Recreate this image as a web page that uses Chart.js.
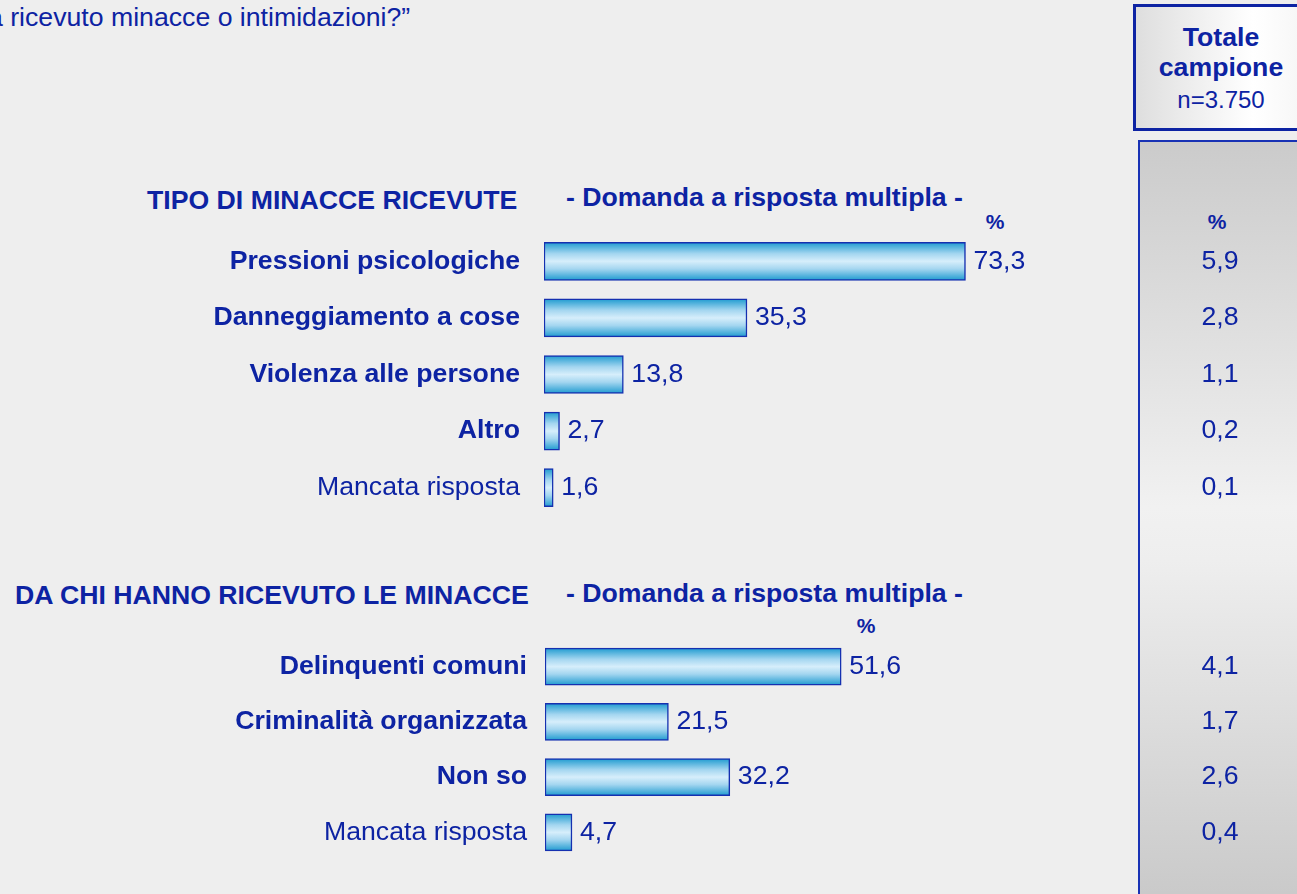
<!DOCTYPE html>
<html>
<head>
<meta charset="utf-8">
<script src="https://cdn.jsdelivr.net/npm/chart.js@4.4.1/dist/chart.umd.min.js"></script>
<style>
  body { margin: 0; background: #eeeeee; width: 1297px; height: 894px; overflow: hidden; position: relative;
         font-family: 'Liberation Sans', Arial, sans-serif; color: #0d23a3; }
  .t { position: absolute; white-space: nowrap; line-height: 1; font-size: 26.67px; }
  .b { font-weight: bold; }
  .pct { position: absolute; width: 100px; text-align: center; font-weight: bold; font-size: 21px; line-height: 1; }
  #box { position: absolute; left: 1133px; top: 4px; width: 180px; height: 121px; border: 3px solid #0d23a3;
         background: linear-gradient(to right, #dedede 0%, #ffffff 65%, #f4f4f4 100%); }
  #col { position: absolute; left: 1138px; top: 140px; width: 170px; height: 760px;
         border-left: 2px solid #1832b5; border-top: 2px solid #1832b5;
         background: linear-gradient(to bottom, #cbcbcb 0%, #f1f1f1 48%, #eeeeee 55%, #c9c9c9 100%); }
  canvas { position: absolute; left: 0; }
</style>
</head>
<body>
<div class="t" style="left:-12px; top:4px;">a ricevuto minacce o intimidazioni?”</div>

<div id="box"></div>
<div class="t b" style="left:1121px; width:200px; text-align:center; top:24px;">Totale</div>
<div class="t b" style="left:1121px; width:200px; text-align:center; top:54px;">campione</div>
<div class="t" style="left:1121px; width:200px; text-align:center; top:88px; font-size:24px;">n=3.750</div>
<div id="col"></div>

<div class="t b" style="left:147px; top:187px;">TIPO DI MINACCE RICEVUTE</div>
<div class="t b" style="left:566px; top:184px;">- Domanda a risposta multipla -</div>
<div class="pct" style="left:945px; top:211px;">%</div>
<div class="pct" style="left:1167px; top:211px;">%</div>

<div class="t b" style="left:15px; top:582px;">DA CHI HANNO RICEVUTO LE MINACCE</div>
<div class="t b" style="left:566px; top:580px;">- Domanda a risposta multipla -</div>
<div class="pct" style="left:816px; top:615px;">%</div>

<canvas id="chartTipo" width="1297" height="283" style="top:233px;"></canvas>
<canvas id="chartChi" width="1297" height="221" style="top:639px;"></canvas>

<script>
const tipoLabels = ['Pressioni psicologiche', 'Danneggiamento a cose', 'Violenza alle persone', 'Altro', 'Mancata risposta'];
const tipoValues = [73.3, 35.3, 13.8, 2.7, 1.6];
const tipoTotale = [5.9, 2.8, 1.1, 0.2, 0.1];

const chiLabels = ['Delinquenti comuni', 'Criminalità organizzata', 'Non so', 'Mancata risposta'];
const chiValues = [51.6, 21.5, 32.2, 4.7];
const chiTotale = [4.1, 1.7, 2.6, 0.4];

const FONT = "'Liberation Sans', Arial, sans-serif";
const BLUE = '#0d23a3';

// numbers written the italian way
function fmt(v) {
    return v.toFixed(1).replace('.', ',');
}

function makeChart(id, labels, values, totals, axisWidth, labelPad, thick) {
    // value next to the bar + value in the grey column on the same row
    const valuesPlugin = {
        id: 'values',
        afterDatasetsDraw(chart) {
            const c = chart.ctx;
            c.save();
            c.fillStyle = BLUE;
            c.font = '26.67px ' + FONT;
            c.textBaseline = 'middle';
            chart.getDatasetMeta(0).data.forEach((bar, i) => {
                c.textAlign = 'left';
                c.fillText(fmt(values[i]), bar.x + 8, bar.y);
                c.textAlign = 'center';
                c.fillText(fmt(totals[i]), 1220, bar.y);
            });
            c.restore();
        }
    };

    return new Chart(document.getElementById(id), {
        type: 'bar',
        data: {
            labels: labels,
            datasets: [{
                data: values,
                barThickness: thick,
                borderColor: '#1530b0',
                borderWidth: 1.5,
                borderSkipped: false,
                backgroundColor: ctx => {
                    const ys = ctx.chart.scales.y;
                    if (!ys || ctx.dataIndex === undefined) return '#9fd3ee';
                    const cy = ys.getPixelForTick(ctx.dataIndex);
                    if (!Number.isFinite(cy)) return '#9fd3ee';
                    const g = ctx.chart.ctx.createLinearGradient(0, cy - thick / 2, 0, cy + thick / 2);
                    g.addColorStop(0, '#1f9bd0');
                    g.addColorStop(0.3, '#a4d6f0');
                    g.addColorStop(0.5, '#d6eefb');
                    g.addColorStop(0.7, '#a4d6f0');
                    g.addColorStop(1, '#1f9bd0');
                    return g;
                }
            }]
        },
        options: {
            indexAxis: 'y',
            responsive: false,
            devicePixelRatio: 1,
            animation: false,
            layout: { padding: 0 },
            plugins: {
                legend: { display: false },
                tooltip: { enabled: false }
            },
            scales: {
                x: { display: false, min: 0, max: 100, afterFit: s => { s.paddingRight = 178; } },
                y: {
                    grid: { display: false, drawTicks: false },
                    border: { display: false },
                    // fixed axis width, and no extra room above/below for the labels
                    afterFit: s => {
                        s.width = axisWidth;
                        s.paddingTop = 0;
                        s.paddingBottom = 0;
                    },
                    ticks: {
                        color: BLUE,
                        padding: labelPad,
                        font: c => ({
                            family: FONT,
                            size: 26.67,
                            weight: labels[c.index] === 'Mancata risposta' ? 'normal' : 'bold'
                        })
                    }
                }
            }
        },
        plugins: [valuesPlugin]
    });
}

makeChart('chartTipo', tipoLabels, tipoValues, tipoTotale, 544, 24, 38);
makeChart('chartChi', chiLabels, chiValues, chiTotale, 545, 18, 37);
</script>
</body>
</html>
